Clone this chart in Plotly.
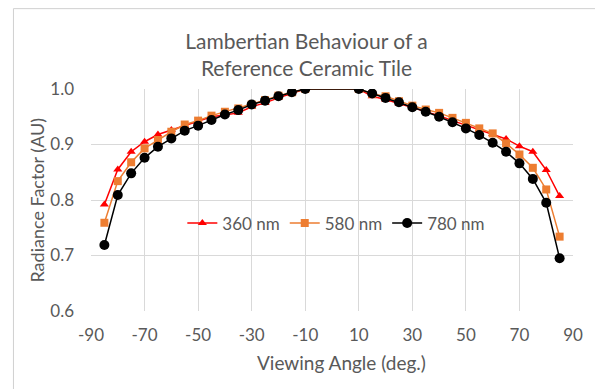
import plotly.graph_objects as go

angles = [-85, -80, -75, -70, -65, -60, -55, -50, -45, -40, -35, -30, -25, -20, -15, -10,
          10, 15, 20, 25, 30, 35, 40, 45, 50, 55, 60, 65, 70, 75, 80, 85]

nm360 = [0.792, 0.855, 0.887, 0.905, 0.918, 0.926, 0.934, 0.943, 0.950, 0.953, 0.957, 0.968, 0.975, 0.984, 0.992, 1.000,
         1.000, 0.987, 0.981, 0.974, 0.966, 0.960, 0.952, 0.943, 0.935, 0.927, 0.919, 0.910, 0.897, 0.887, 0.854, 0.807]
nm580 = [0.759, 0.834, 0.868, 0.893, 0.908, 0.923, 0.936, 0.943, 0.952, 0.959, 0.965, 0.972, 0.980, 0.988, 0.994, 1.000,
         1.000, 0.991, 0.987, 0.978, 0.970, 0.963, 0.957, 0.948, 0.939, 0.929, 0.920, 0.902, 0.882, 0.858, 0.819, 0.734]
nm780 = [0.719, 0.809, 0.848, 0.876, 0.896, 0.911, 0.925, 0.934, 0.944, 0.954, 0.962, 0.972, 0.979, 0.987, 0.994, 1.000,
         1.000, 0.992, 0.984, 0.976, 0.967, 0.959, 0.950, 0.940, 0.929, 0.917, 0.903, 0.887, 0.866, 0.838, 0.795, 0.695]

x_ticks = [-90, -70, -50, -30, -10, 10, 30, 50, 70, 90]
y_ticks = [0.6, 0.7, 0.8, 0.9, 1.0]

gray = "#595959"
font = "Lato, 'Open Sans', sans-serif"

fig = go.Figure()
fig.add_trace(go.Scatter(x=angles, y=nm360, name="360 nm", mode="lines+markers",
                         line=dict(color="#ff0000", width=1.5),
                         marker=dict(symbol="triangle-up", size=8, color="#ff0000")))
fig.add_trace(go.Scatter(x=angles, y=nm580, name="580 nm", mode="lines+markers",
                         line=dict(color="#ed7d31", width=1.5),
                         marker=dict(symbol="square", size=8, color="#ed7d31")))
fig.add_trace(go.Scatter(x=angles, y=nm780, name="780 nm", mode="lines+markers",
                         line=dict(color="#000000", width=1.5),
                         marker=dict(symbol="circle", size=10, color="#000000")))

fig.update_layout(
    width=595, height=389,
    margin=dict(l=91, r=13, t=89, b=78),
    paper_bgcolor="white", plot_bgcolor="white",
    font=dict(family=font, color=gray, size=17),
    title=dict(text="Lambertian Behaviour of a<br>Reference Ceramic Tile",
               xref="container", x=306.5 / 595, xanchor="center",
               yref="container", y=1 - 48.5 / 389, yanchor="middle",
               font=dict(size=21, color=gray, family=font)),
    xaxis=dict(range=[-90, 90], tickvals=x_ticks, ticktext=[str(v) for v in x_ticks],
               showgrid=True, gridcolor="#d9d9d9", gridwidth=1, zeroline=False,
               showline=False, ticks="", tickfont=dict(size=17, color=gray),
               ticklabelstandoff=12),
    yaxis=dict(range=[0.6, 1.0], tickvals=y_ticks, ticktext=["0.6", "0.7", "0.8", "0.9", "1.0"],
               showgrid=True, gridcolor="#d9d9d9", gridwidth=1, zeroline=False,
               showline=False, ticks="", tickfont=dict(size=17, color=gray),
               ticklabelstandoff=16),
    legend=dict(orientation="h", x=0.509, xanchor="center", y=0.394, yanchor="middle",
                bgcolor="rgba(0,0,0,0)", font=dict(size=17, color=gray),
                itemwidth=30, tracegroupgap=0),
    showlegend=True,
    annotations=[
        dict(text="Viewing Angle (deg.)", xref="paper", yref="paper",
             x=(346 - 91) / 491, y=(311 - 362) / 221, xanchor="center", yanchor="middle",
             showarrow=False, font=dict(size=19, color=gray, family=font)),
        dict(text="Radiance Factor (AU)", xref="paper", yref="paper",
             x=(35 - 91) / 491, y=(311 - 201) / 221, xanchor="center", yanchor="middle",
             textangle=-90, showarrow=False, font=dict(size=18, color=gray, family=font)),
    ],
    shapes=[dict(type="rect", xref="paper", yref="paper",
                 x0=(12 - 91) / 491, x1=(620 - 91) / 491, y0=(311 - 420) / 221, y1=(311 - 10) / 221,
                 line=dict(color="#d0d0d0", width=1), fillcolor="rgba(0,0,0,0)", layer="above")],
)

fig.write_html("out.html", config={"displayModeBar": False},
               post_script="document.body.style.margin='0';document.body.style.overflow='hidden';")
